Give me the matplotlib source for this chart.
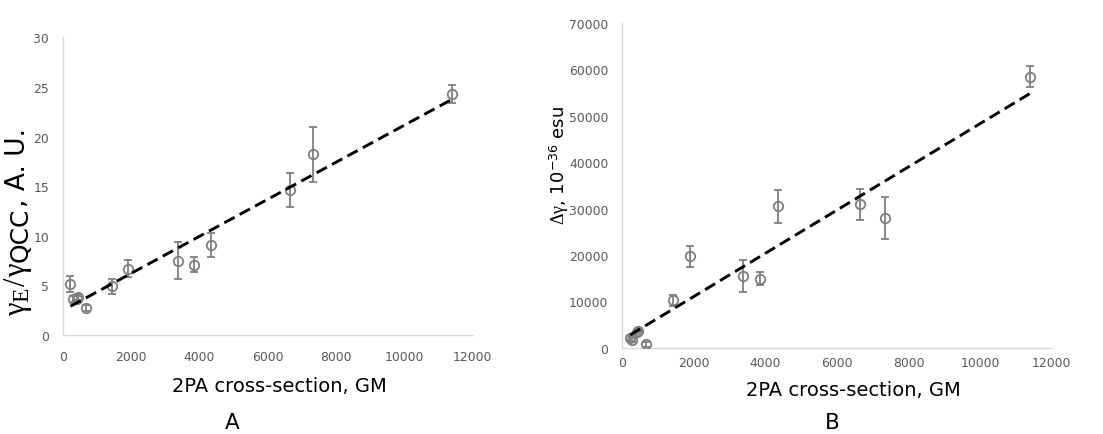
import numpy as np
import matplotlib
matplotlib.use("Agg")
import matplotlib.pyplot as plt

plt.rcParams["font.family"] = ["DejaVu Sans"]
plt.rcParams["mathtext.fontset"] = "custom"
plt.rcParams["mathtext.rm"] = "Liberation Serif"
plt.rcParams["mathtext.it"] = "Liberation Serif:italic"
plt.rcParams["mathtext.sf"] = "DejaVu Sans"

# Two-photon absorption cross-section of each compound, GM
cross_section = [220, 280, 400, 450, 670, 1430, 1900, 3380, 3850, 4340, 6640, 7330, 11390]

# Panel A: relative hyperpolarizability gamma_E / gamma_QCC
gamma_ratio = [5.1, 3.6, 3.6, 3.8, 2.7, 4.9, 6.7, 7.5, 7.1, 9.1, 14.6, 18.2, 24.3]
gamma_ratio_err = [0.8, 0.3, 0.3, 0.3, 0.3, 0.75, 0.9, 1.9, 0.8, 1.2, 1.7, 2.75, 0.9]

# Panel B: delta gamma, 10^-36 esu
delta_gamma = [2000, 1700, 3300, 3700, 700, 10200, 19700, 15400, 14900, 30500, 30900, 28000, 58400]
delta_gamma_err = [500, 400, 400, 400, 500, 1200, 2200, 3500, 1400, 3600, 3400, 4500, 2300]

x_ticks = [0, 2000, 4000, 6000, 8000, 10000, 12000]
a_ticks = [0, 5, 10, 15, 20, 25, 30]
b_ticks = [0, 10000, 20000, 30000, 40000, 50000, 60000, 70000]

POINT = "#7f7f7f"
SPINE = "#d9d9d9"
TICKTXT = "#595959"

W, H = 1103, 435
fig = plt.figure(figsize=(W / 100, H / 100), dpi=100)
ax_a = fig.add_axes([0.0571, 0.2276, 0.3715, 0.6844])
ax_b = fig.add_axes([0.5642, 0.1984, 0.3893, 0.7464])


def draw_panel(ax, x, y, err, yticks, xpad, ypad):
    x = np.asarray(x, dtype=float)
    y = np.asarray(y, dtype=float)
    ax.errorbar(x, y, yerr=err, fmt="o", mfc="none", mec=POINT, mew=1.3,
                ms=6.8, ecolor=POINT, elinewidth=1.3, capsize=2.6,
                capthick=1.3, zorder=3)
    slope, intercept = np.polyfit(x, y, 1)
    xs = np.array([x.min(), x.max()])
    ax.plot(xs, slope * xs + intercept, color="black", lw=2.1,
            dashes=(4, 2), zorder=4)
    ax.set_xlim(x_ticks[0], x_ticks[-1])
    ax.set_ylim(yticks[0], yticks[-1])
    ax.set_xticks(x_ticks)
    ax.set_yticks(yticks)
    for side in ("top", "right"):
        ax.spines[side].set_visible(False)
    for side in ("left", "bottom"):
        ax.spines[side].set_color(SPINE)
        ax.spines[side].set_linewidth(1.0)
    ax.tick_params(axis="x", length=0, pad=xpad, labelsize=8.9, labelcolor=TICKTXT)
    ax.tick_params(axis="y", length=0, pad=ypad, labelsize=8.9, labelcolor=TICKTXT)


draw_panel(ax_a, cross_section, gamma_ratio, gamma_ratio_err, a_ticks, 11, 10)
draw_panel(ax_b, cross_section, delta_gamma, delta_gamma_err, b_ticks, 6, 10)

ax_a.set_xlabel("2PA cross-section, GM", fontsize=14)
ax_a.xaxis.set_label_coords(0.527, -0.171)
ax_a.xaxis.label.set_va("center")

ax_b.set_xlabel("2PA cross-section, GM", fontsize=14)
ax_b.xaxis.set_label_coords(0.537, -0.129)
ax_b.xaxis.label.set_va("center")
ax_b.set_ylabel(r"$\mathrm{\Delta\gamma}$, 10$^{\mathsf{-36}}$ esu", fontsize=13)
ax_b.yaxis.set_label_coords(-0.147, 0.563)
ax_b.yaxis.label.set_va("center")

# Vertical axis title of panel A, set piece by piece so that the subscripts
# keep a readable size: (text, font family, size, baseline shift in px)
SERIF = "Liberation Serif"
SANS = "DejaVu Sans"
title_pieces = [
    ("γ", SERIF, 22, 0),
    ("E", SERIF, 17, 3),
    ("/", SERIF, 22, 0),
    ("γ", SERIF, 22, 0),
    ("QCC", SANS, 18, 3),
    (", A. U.", SANS, 19, 0),
]
renderer = fig.canvas.get_renderer()
base_x = 25.0          # baseline, px from the left
center_y = 222.0       # middle of the title, px from the top
gap = 1.0
texts = []
for text, family, size, shift in title_pieces:
    t = fig.text((base_x + shift) / W, 0.5, text, family=family,
                 fontsize=size, rotation=90, rotation_mode="anchor",
                 ha="left", va="baseline")
    texts.append(t)
lengths = [t.get_window_extent(renderer).height for t in texts]
total = sum(lengths) + gap * (len(texts) - 1)
pos_y = center_y + total / 2
for t, length in zip(texts, lengths):
    t.set_y(1 - pos_y / H)
    pos_y -= length + gap

fig.text(232 / W, 1 - 423 / H, "A", fontsize=15.5, ha="center", va="center")
fig.text(832 / W, 1 - 423 / H, "B", fontsize=15.5, ha="center", va="center")

fig.savefig("out.png", dpi=100)
